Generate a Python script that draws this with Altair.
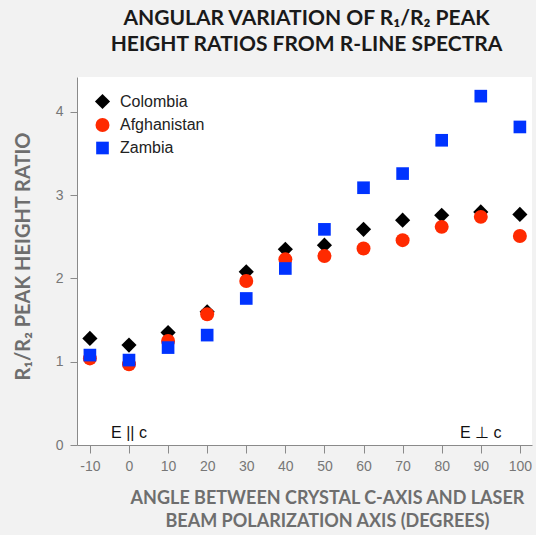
import altair as alt
import pandas as pd

angles = [-10, 0, 10, 20, 30, 40, 50, 60, 70, 80, 90, 100]
colombia = [1.28, 1.20, 1.35, 1.60, 2.08, 2.35, 2.40, 2.59, 2.70, 2.76, 2.80, 2.77]
afghanistan = [1.04, 0.97, 1.25, 1.57, 1.97, 2.23, 2.27, 2.36, 2.46, 2.62, 2.74, 2.51]
zambia = [1.08, 1.02, 1.17, 1.32, 1.76, 2.12, 2.59, 3.09, 3.26, 3.66, 4.19, 3.82]
series = ["Colombia", "Afghanistan", "Zambia"]
x_ticks = [-10, 0, 10, 20, 30, 40, 50, 60, 70, 80, 90, 100]
y_ticks = [0, 1, 2, 3, 4]
ann_text = ["E || c", "E ⊥ c"]
ann_x = [0, 90]
ann_y = [0.14, 0.14]

rows = []
for name, vals in zip(series, [colombia, afghanistan, zambia]):
    for a, v in zip(angles, vals):
        rows.append({"angle": a, "ratio": v, "site": name})
df = pd.DataFrame(rows)
ann = pd.DataFrame({"label": ann_text, "angle": ann_x, "ratio": ann_y})

xscale = alt.Scale(domain=[-13.3, 103.1], nice=False, zero=False)
yscale = alt.Scale(domain=[0, 4.42], nice=False)
SANS = "Arial, Liberation Sans, Helvetica, sans-serif"

points = alt.Chart(df).mark_point(filled=True, opacity=1, strokeWidth=0).encode(
    x=alt.X("angle:Q", scale=xscale,
            axis=alt.Axis(values=x_ticks, grid=False, tickSize=8, labelPadding=6,
                          labelExpr="toString(datum.value)",
                          title=["ANGLE BETWEEN CRYSTAL C-AXIS AND LASER",
                                 "BEAM POLARIZATION AXIS (DEGREES)"],
                          titleX=250, titleY=58, titleBaseline="alphabetic",
                          titleLineHeight=23)),
    y=alt.Y("ratio:Q", scale=yscale,
            axis=alt.Axis(values=y_ticks, grid=False, tickSize=7, labelPadding=7,
                          labelExpr="toString(datum.value)",
                          title="R₁/R₂ PEAK HEIGHT RATIO", titleFontSize=20,
                          titleX=-44, titleY=179)),
    color=alt.Color("site:N", scale=alt.Scale(domain=series, range=["#000000", "#ff2a00", "#0033ff"]),
                    legend=alt.Legend(title=None, orient="none", legendX=17, legendY=16,
                                      labelFont=SANS, labelFontSize=16,
                                      labelColor="#222222", rowPadding=7, labelOffset=9)),
    shape=alt.Shape("site:N", scale=alt.Scale(domain=series, range=["diamond", "circle", "square"])),
    size=alt.Size("site:N", scale=alt.Scale(domain=series, range=[230, 160, 121])),
    order=alt.Order("order:Q"),
).transform_calculate(order="indexof(['Colombia','Afghanistan','Zambia'], datum.site)")

labels = alt.Chart(ann).mark_text(font=SANS, fontSize=16, color="#111111",
                                  baseline="middle", align="center").encode(
    x=alt.X("angle:Q", scale=xscale), y=alt.Y("ratio:Q", scale=yscale), text="label:N")

chart = alt.layer(points, labels).properties(
    width=455, height=368,
    autosize=alt.AutoSizeParams(type="none"),
    padding={"left": 77, "top": 77, "right": 4, "bottom": 90},
    background="#f2f2f2",
    title=alt.TitleParams(text=["ANGULAR VARIATION OF R₁/R₂ PEAK",
                                "HEIGHT RATIOS FROM R-LINE SPECTRA"],
                          font="Lato", fontSize=21, fontWeight="bold", color="#1a1a1a",
                          anchor="middle", offset=22, lineHeight=26, dx=2),
).configure_view(fill="white", stroke=None).configure_axis(
    domainColor="#8a8a8a", tickColor="#8a8a8a", labelColor="#777777",
    labelFont=SANS, labelFontSize=14,
    titleFont="Lato", titleFontSize=18, titleFontWeight="bold", titleColor="#6e6e6e",
)

chart.save("out.html", embed_options={"renderer": "svg", "actions": False})
